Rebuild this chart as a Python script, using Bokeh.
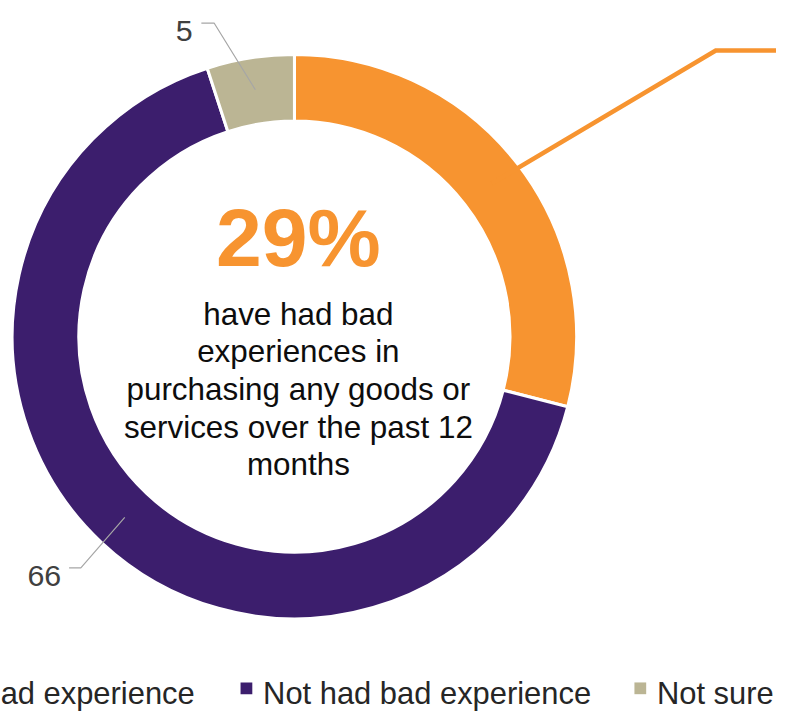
import numpy as np
from bokeh.plotting import figure
from bokeh.models import Range1d, ColumnDataSource
from bokeh.core.properties import value
from bokeh.embed import file_html
from bokeh.resources import INLINE

# ---- data ----
categories = ["Had bad experience", "Not had bad experience", "Not sure"]
values = [29, 66, 5]
colors = ["#F79430", "#3C1E6D", "#BBB594"]
headline = "29%"
body_lines = ["have had bad", "experiences in", "purchasing any goods or",
              "services over the past 12", "months"]

# ---- layout (reference pixel space, y measured from the top) ----
W_REF, H_REF = 792, 728
PW, PH = 776, 712
S = PW / W_REF
y_span = PH / S


def Y(y_ref):
    return H_REF - y_ref


CX, CY = 300, Y(343)
R_OUT, R_IN = 288, 220
FONT = "Liberation Sans"

p = figure(width=PW, height=PH, x_range=Range1d(0, W_REF),
           y_range=Range1d(H_REF - y_span, H_REF),
           output_backend="svg", toolbar_location=None,
           x_axis_location=None, y_axis_location=None, min_border=0)
p.grid.visible = False
p.outline_line_color = None
p.background_fill_color = "white"
p.border_fill_color = "white"

vals = np.array(values, dtype=float)
fr = vals / vals.sum()
cum = np.concatenate([[0.0], np.cumsum(fr)])
start = np.pi / 2 - 2 * np.pi * cum[1:]
end = np.pi / 2 - 2 * np.pi * cum[:-1]
mid = (start + end) / 2

src = ColumnDataSource(dict(cat=categories, val=values, color=colors,
                            start=start, end=end))
p.annular_wedge(x=CX, y=CY, inner_radius=R_IN, outer_radius=R_OUT,
                start_angle="start", end_angle="end", fill_color="color",
                line_color="white", line_width=3, source=src)


def on_ring(i, r):
    return CX + r * np.cos(mid[i]), CY + r * np.sin(mid[i])


# leader lines
ox, oy = on_ring(0, 255)
p.line(x=[ox, 730, 820], y=[oy, Y(51), Y(51)], line_color=colors[0],
       line_width=4.6, line_join="miter")

bx, by = on_ring(2, 255)
p.line(x=[bx, 218, 205], y=[by, Y(23), Y(23)], line_color="#A6A6A6",
       line_width=1.2)
px_, py_ = on_ring(1, 253)
p.line(x=[px_, 82, 70], y=[py_, Y(579), Y(579)], line_color="#A6A6A6",
       line_width=1.2)

p.text(x=[196, 62], y=[Y(31), Y(587)], text=[str(values[2]), str(values[1])],
       text_align="right", text_baseline="alphabetic",
       text_font=value(FONT), text_font_size=f"{31 * S:.1f}px",
       text_color="#404040")

# centre text
p.text(x=[304], y=[Y(241.5)], text=[headline], text_align="center",
       text_baseline="alphabetic", text_font=value(FONT),
       text_font_style="bold", text_font_size=f"{84 * S:.1f}px",
       text_color=colors[0])
p.text(x=[304] * len(body_lines),
       y=[Y(320 + 38.5 * i) for i in range(len(body_lines))],
       text=body_lines, text_align="center", text_baseline="alphabetic",
       text_font=value(FONT), text_font_size=f"{32 * S:.1f}px",
       text_color="#0D0D0D")

# legend (hand-drawn, clipped at the left like the reference)
leg_text_x = [-84, 268, 670]
p.scatter(x=[t - 17 for t in leg_text_x], y=[Y(702)] * 3, marker="square",
          size=12 * S, fill_color=colors, line_color=None)
p.text(x=leg_text_x, y=[Y(707)] * 3, text=categories, text_align="left",
       text_baseline="alphabetic", text_font=value(FONT),
       text_font_size=f"{31.5 * S:.1f}px", text_color="#262626")

open("out.html", "w").write(file_html(p, INLINE))
